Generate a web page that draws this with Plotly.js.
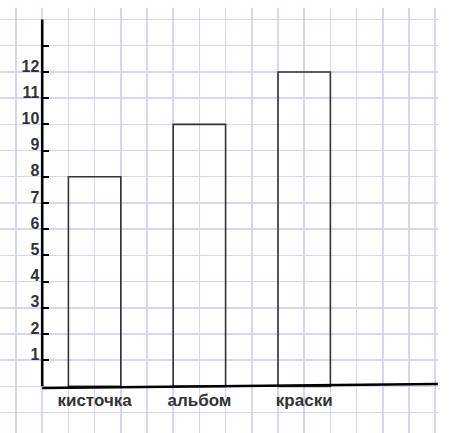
<!DOCTYPE html>
<html><head><meta charset="utf-8">
<script src="https://cdn.plot.ly/plotly-3.0.1.min.js"></script>
<style>html,body{margin:0;padding:0;background:#fff}</style>
</head><body><div id="chart" style="width:458px;height:433px"></div>
<script>
const categories = ['кисточка', 'альбом', 'краски'];
const values = [8, 10, 12];
const yTickVals = [1, 2, 3, 4, 5, 6, 7, 8, 9, 10, 11, 12, 13];
const yTickText = ['1', '2', '3', '4', '5', '6', '7', '8', '9', '10', '11', '12', ''];

// bar centres on the grid: every 4 cells starting at cell 3
const xPos = categories.map((c, i) => 3 + 4 * i);

const gridColor = '#d6d6f2';
const fontFam = 'Liberation Sans, Arial, sans-serif';

const trace = {
  type: 'bar',
  x: xPos,
  y: values,
  width: 2,
  marker: { color: 'rgba(255,255,255,0)', line: { color: '#333333', width: 1.6 } },
  hoverinfo: 'none'
};

const layout = {
  width: 458, height: 433,
  margin: { l: 0, r: 20, t: 8, b: 0, pad: 0 },
  paper_bgcolor: '#ffffff', plot_bgcolor: '#ffffff',
  showlegend: false,
  xaxis: {
    range: [-0.611, 16.107],
    anchor: 'free', position: 0.1097,
    tickvals: xPos, ticktext: categories,
    ticks: '', showline: false, zeroline: false,
    showgrid: true, gridcolor: gridColor, gridwidth: 1.5,
    minor: { dtick: 1, tick0: 0, showgrid: true, gridcolor: gridColor, gridwidth: 1.5, ticks: '' },
    tickfont: { family: fontFam, size: 17, color: '#333333', weight: 'bold' },
    ticklabelstandoff: 2,
    fixedrange: true
  },
  yaxis: {
    range: [-1.78, 14.44],
    anchor: 'free', position: 0.0966,
    tickmode: 'array', tickvals: yTickVals, ticktext: yTickText,
    ticks: 'inside', ticklen: 6, tickwidth: 2, tickcolor: '#000000',
    showline: false, zeroline: false,
    showgrid: true, gridcolor: gridColor, gridwidth: 1.5,
    minor: { dtick: 1, tick0: 0, showgrid: true, gridcolor: gridColor, gridwidth: 1.5, ticks: '' },
    tickfont: { family: fontFam, size: 16, color: '#333333', weight: 'bold' },
    ticklabelshift: -6,
    ticklabelstandoff: 3,
    fixedrange: true
  },
  shapes: [
    { type: 'line', xref: 'x', yref: 'y', x0: 1, x1: 1, y0: 0, y1: 14, line: { color: '#000000', width: 2.6 } },
    { type: 'line', xref: 'x', yref: 'y', x0: 1, x1: 16.1, y0: -0.06, y1: 0.09, line: { color: '#000000', width: 2.6 } }
  ]
};

Plotly.newPlot('chart', [trace], layout, { displayModeBar: false, staticPlot: true });
</script></body></html>
